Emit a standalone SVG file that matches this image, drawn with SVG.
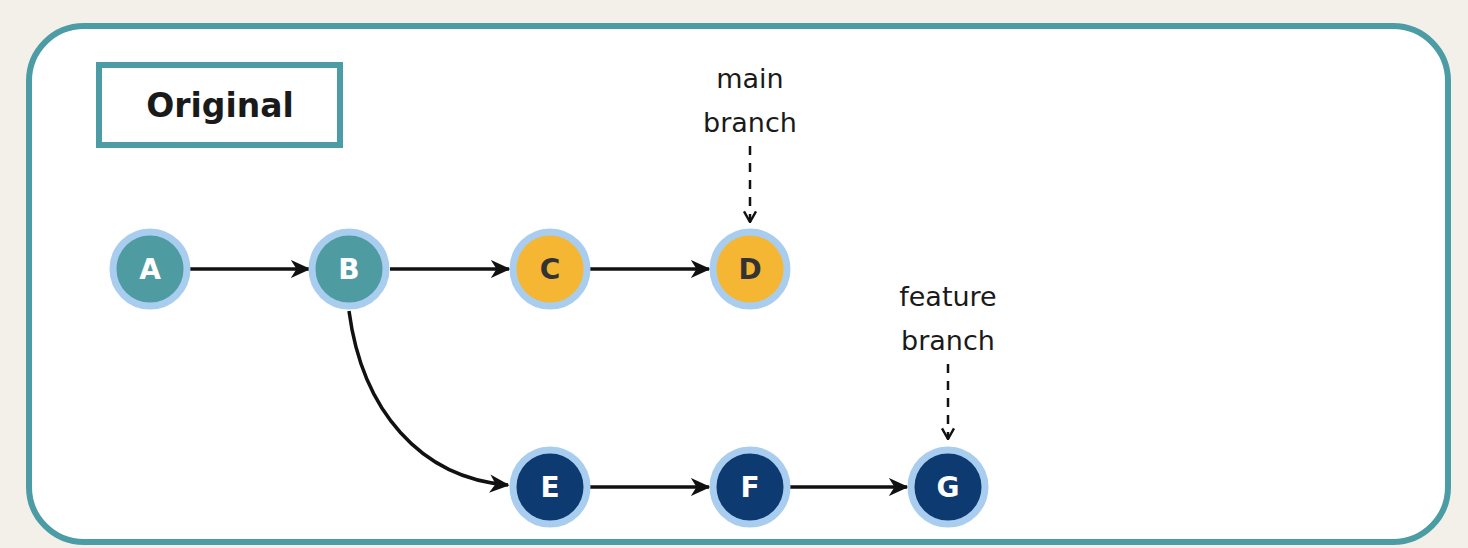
<svg xmlns="http://www.w3.org/2000/svg" width="1468" height="548" viewBox="0 0 1468 548">
<defs>
<marker id="ah" viewBox="0 0 12 12" refX="11" refY="6" markerWidth="20" markerHeight="20" markerUnits="userSpaceOnUse" orient="auto">
<path d="M0,0.5 L12,6 L0,11.5 L3.5,6 Z" fill="#111"/>
</marker>
<marker id="vh" viewBox="0 0 12 12" refX="6" refY="11" markerWidth="16" markerHeight="16" markerUnits="userSpaceOnUse" orient="0">
<path d="M1.5,3 L6,11 L10.5,3" fill="none" stroke="#111" stroke-width="1.8"/>
</marker>
<style>
.ring{stroke:#a9cdee;stroke-width:7}
.teal{fill:#4f9ba2}
.yel{fill:#f4b633}
.navy{fill:#0e3a72}
.lt{font-family:"DejaVu Sans","Liberation Sans",sans-serif;font-weight:bold;font-size:28px;text-anchor:middle;fill:#fff}
.ld{font-family:"DejaVu Sans","Liberation Sans",sans-serif;font-weight:bold;font-size:28px;text-anchor:middle;fill:#333}
.note{font-family:"DejaVu Sans","Liberation Sans",sans-serif;font-size:27px;text-anchor:middle;fill:#1a1a1a}
.edge{fill:none;stroke:#111;stroke-width:3.5;marker-end:url(#ah)}
.dash{fill:none;stroke:#111;stroke-width:2.5;stroke-dasharray:9,8;marker-end:url(#vh)}
</style>
</defs>
<rect width="1468" height="548" fill="#f3f0ea"/>
<rect x="29" y="26" width="1419" height="516" rx="55" fill="#ffffff" stroke="#4b9ca4" stroke-width="6"/>
<g id="title">
<rect x="99" y="65" width="241" height="80" fill="#fff" stroke="#4b9ca4" stroke-width="6"/>
<text x="220" y="117" style="font-family:'DejaVu Sans','Liberation Sans',sans-serif;font-size:33px;font-weight:bold;text-anchor:middle;fill:#1a1a1a">Original</text>
</g>
<g id="connectors">
<path class="edge" d="M190,269 L309,269"/>
<path class="edge" d="M390,269 L509,269"/>
<path class="edge" d="M590,269 L709,269"/>
<path class="edge" d="M590,487 L709,487"/>
<path class="edge" d="M790,487 L907,487"/>
<path class="edge" d="M349,311 C362,410 420,478 508,485"/>
<path class="dash" d="M750,146 L750,222"/>
<path class="dash" d="M948,364 L948,439"/>
</g>
<g id="node-A"><circle cx="150" cy="269" r="37" class="teal ring"/><text x="150" y="279" class="lt">A</text></g>
<g id="node-B"><circle cx="349" cy="269" r="37" class="teal ring"/><text x="349" y="279" class="lt">B</text></g>
<g id="node-C"><circle cx="550" cy="269" r="37" class="yel ring"/><text x="550" y="279" class="ld">C</text></g>
<g id="node-D"><circle cx="750" cy="269" r="37" class="yel ring"/><text x="750" y="279" class="ld">D</text></g>
<g id="node-E"><circle cx="550" cy="487" r="37" class="navy ring"/><text x="550" y="497" class="lt">E</text></g>
<g id="node-F"><circle cx="750" cy="487" r="37" class="navy ring"/><text x="750" y="497" class="lt">F</text></g>
<g id="node-G"><circle cx="948" cy="487" r="37" class="navy ring"/><text x="948" y="497" class="lt">G</text></g>
<g id="label-main"><text x="750" y="88" class="note">main</text><text x="750" y="132" class="note">branch</text></g>
<g id="label-feature"><text x="948" y="306" class="note">feature</text><text x="948" y="350" class="note">branch</text></g>
</svg>
